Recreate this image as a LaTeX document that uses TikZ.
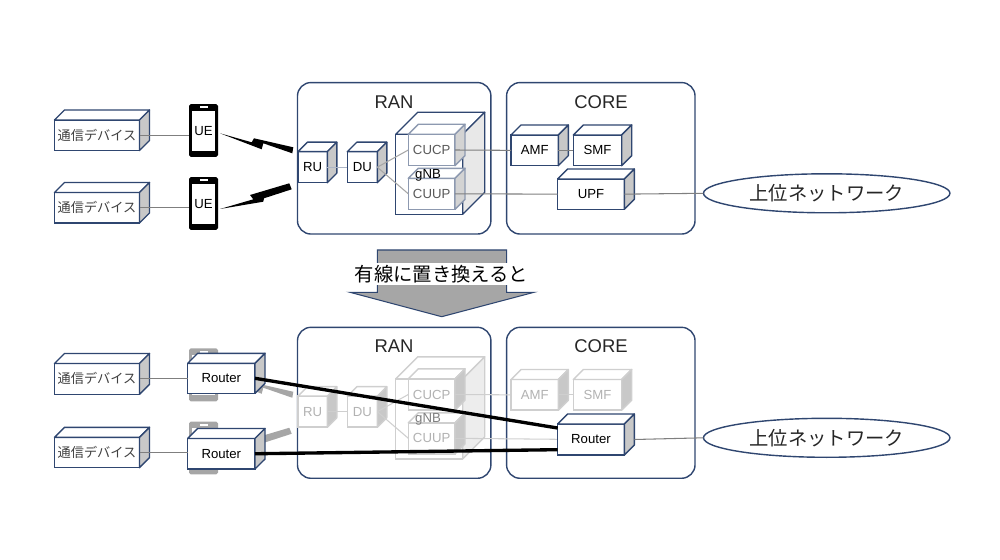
\documentclass[tikz,border=0pt]{standalone}
\usepackage{fontspec}
\setmainfont{Liberation Sans}
\newfontfamily\jp{Noto Sans CJK JP}
\usetikzlibrary{shapes.geometric}

\definecolor{navyline}{HTML}{2F4670}
\definecolor{wireline}{HTML}{7F7F7F}
\definecolor{sidegray}{HTML}{C8C8C8}
\definecolor{arrowgray}{HTML}{A6A6A6}
\definecolor{fadeline}{HTML}{CFCFCF}
\colorlet{boxedge}{navyline}
\colorlet{boxside}{sidegray}
\colorlet{boxtext}{black}
\colorlet{wirecol}{wireline}
\colorlet{phonecol}{black}

\newcommand{\smalltext}{\fontsize{7.5}{8}\selectfont}

\tikzset{
    cubeface/.style={draw=boxedge,fill=white,line width=0.8pt,inner sep=0pt,outer sep=0pt,text=boxtext,font=\smalltext},
    cubetop/.style={draw=boxedge,fill=white,line width=0.8pt,line join=round},
    cubeside/.style={draw=boxedge,fill=boxside,line width=0.8pt,line join=round},
    groupbox/.style={draw=navyline,line width=0.8pt,rounded corners=0.27cm,inner sep=0pt,outer sep=0pt},
    cloudnet/.style={ellipse,draw=navyline,fill=white,line width=0.8pt,inner sep=0pt,outer sep=0pt,minimum width=4.93cm,minimum height=0.78cm,font=\fontsize{11}{12}\selectfont\jp,text=black!85},
    title/.style={font=\fontsize{10.5}{12}\selectfont,text=black!85},
    wire/.style={draw=wirecol,line width=0.6pt},
    bolt/.style={fill=phonecol},
    link/.style={draw=black,line width=1.9pt}
}

% front face is a node, so wires can end on it
\newcommand{\cube}[7]{
    \node[cubeface,minimum width={(#4-#2)*0.02cm},minimum height={(#5-#3)*0.02cm}] (#1) at ({(#2+#4)/2},{(#3+#5)/2}) {#7};
    \draw[cubetop] (#1.north west) -- ++(#6,-#6) -- ++({#4-#2},0) -- (#1.north east) -- cycle;
    \draw[cubeside] (#1.north east) -- ++(#6,-#6) -- ++(0,{#5-#3}) -- (#1.south east) -- cycle;
}
\newcommand{\phone}[4]{
    \node[fill=phonecol,rounded corners=1pt,inner sep=0pt,outer sep=0pt,minimum width=0.58cm,minimum height=1.06cm] (#1) at (#2,#3) {};
    \node[fill=white,inner sep=0pt,minimum width=0.46cm,minimum height=0.81cm,font=\smalltext] (#1screen) at (#2,#3+0.4) {#4};
    \node[fill=white,inner sep=0pt,minimum width=0.16cm,minimum height=0.04cm] (#1speaker) at (#2,#3-23) {};
}

\begin{document}
\begin{tikzpicture}[x=0.02cm,y=-0.02cm]
    \useasboundingbox (0,0) rectangle (1000,560);

    % upper half
    \node[groupbox,minimum width=3.87cm,minimum height=3.03cm] (ran) at (394.2,158.3) {};
    \node[groupbox,minimum width=3.77cm,minimum height=3.03cm] (core) at (600.8,158.3) {};
    \node[title] (rantitle) at (394,101.7) {RAN};
    \node[title] (coretitle) at (601,101.7) {CORE};

    \cube{dev1}{54.5}{120}{139.5}{150.5}{10}{\jp\textcolor{black!75}{通信デバイス}}
    \cube{dev2}{54.5}{192.5}{139.5}{223}{10}{\jp\textcolor{black!75}{通信デバイス}}
    \phone{ue1}{203.5}{130.5}{UE}
    \phone{ue2}{203.5}{203.5}{UE}
    \draw[wire] (dev1.east) -- (dev1.east -| ue1.west);
    \draw[wire] (dev2.east) -- (dev2.east -| ue2.west);
    \fill[bolt] (220,133.3) -- (251.7,142.3) -- (254,138.3) -- (293.3,147.3) -- (292.3,153.3) -- (263.3,143.3) -- (261.7,149.3) -- cycle;
    \fill[bolt] (220,209) -- (253.3,199.3) -- (250,195) -- (289.3,183.3) -- (291.7,189.3) -- (264,198.3) -- (263.3,201.7) -- cycle;

    \cube{ru}{298}{151.7}{327.3}{182.7}{9.5}{RU}
    \cube{du}{347.3}{151.7}{377.3}{182.7}{9.5}{DU}
    \begin{scope}
        \colorlet{boxside}{black!9}
        \cube{gnb}{395.7}{134.3}{462.7}{214.3}{22}{}
        \colorlet{boxedge}{navyline!55}
        \colorlet{boxside}{sidegray!80}
        \colorlet{boxtext}{black!65}
        \cube{cucp}{408.3}{134.3}{455}{165.7}{10}{CUCP}
        \cube{cuup}{408.3}{178.3}{455}{209.3}{10}{CUUP}
    \end{scope}
    \node[font=\fontsize{7.5}{9}\selectfont] (gnblabel) at (428,175) {gNB};
    \cube{amf}{511}{135}{558.3}{165.7}{10}{AMF}
    \cube{smf}{573.3}{135}{621.7}{165.7}{10}{SMF}
    \cube{upf}{557.7}{179}{624.3}{209.3}{10}{UPF}
    \node[cloudnet] (net) at (826.7,193.3) {上位ネットワーク};

    \draw[draw=navyline!40,line width=0.6pt] (ru.east) -- (du.west);
    \draw[wire,draw=black!35] (du.east) -- (cucp.west);
    \draw[wire,draw=black!35] (du.east) -- (cuup.west);
    \draw[wire] (cucp.east) -- (amf.west);
    \draw[wire] (amf.east) -- (smf.west);
    \draw[wire] (cuup.east) -- (upf.west);
    \draw[wire] (upf.east) -- (net.west);

    % arrow between the halves
    \draw[fill=arrowgray,draw=navyline,line width=0.6pt] (377.3,250) -- (506.7,250) -- (506.7,292.3) -- (534,292.3) -- (441.7,316.7) -- (350,292.3) -- (377.3,292.3) -- cycle;
    \node[fill=white,inner sep=0pt,minimum width=3.44cm,minimum height=0.44cm,font=\fontsize{11}{12}\selectfont\jp] (replace) at (441.5,274) {有線に置き換えると};

    % lower half
    \node[groupbox,minimum width=3.87cm,minimum height=3.02cm] (ranb) at (394.2,402.8) {};
    \node[groupbox,minimum width=3.77cm,minimum height=3.02cm] (coreb) at (600.8,402.8) {};
    \node[title] (rantitleb) at (394,346) {RAN};
    \node[title] (coretitleb) at (601,346) {CORE};

    \begin{scope}
        \colorlet{boxedge}{fadeline}
        \colorlet{boxtext}{black!30}
        \colorlet{wirecol}{fadeline}
        \cube{rub}{298}{396.2}{327.3}{427.2}{9.5}{RU}
        \cube{dub}{347.3}{396.2}{377.3}{427.2}{9.5}{DU}
        \colorlet{boxside}{black!7}
        \cube{gnbb}{395.7}{378.8}{462.7}{458.8}{22}{}
        \colorlet{boxside}{sidegray}
        \cube{cucpb}{408.3}{378.8}{455}{410.2}{10}{CUCP}
        \cube{cuupb}{408.3}{422.8}{455}{453.8}{10}{CUUP}
        \node[font=\fontsize{7.5}{9}\selectfont,text=black!50] (gnblabelb) at (428,419.5) {gNB};
        \cube{amfb}{511}{379.5}{558.3}{410.2}{10}{AMF}
        \cube{smfb}{573.3}{379.5}{621.7}{410.2}{10}{SMF}
        \draw[wire] (rub.east) -- (dub.west);
        \draw[wire] (dub.east) -- (cucpb.west);
        \draw[wire] (dub.east) -- (cuupb.west);
        \draw[wire] (cucpb.east) -- (amfb.west);
        \draw[wire] (amfb.east) -- (smfb.west);
        \coordinate (cuuptail) at (557.7,439.3);
        \draw[wire] (cuupb.east) -- (cuuptail);
    \end{scope}

    \begin{scope}
        \colorlet{phonecol}{arrowgray}
        \phone{ueb1}{203.5}{374.8}{}
        \phone{ueb2}{203.5}{448}{}
        \fill[bolt,yshift=-4.89cm] (220,133.3) -- (251.7,142.3) -- (254,138.3) -- (293.3,147.3) -- (292.3,153.3) -- (263.3,143.3) -- (261.7,149.3) -- cycle;
        \fill[bolt,yshift=-4.89cm] (220,209) -- (253.3,199.3) -- (250,195) -- (289.3,183.3) -- (291.7,189.3) -- (264,198.3) -- (263.3,201.7) -- cycle;
    \end{scope}

    \cube{devb1}{54.5}{363.5}{139.5}{394.3}{10}{\jp\textcolor{black!75}{通信デバイス}}
    \cube{devb2}{54.5}{437.3}{139.5}{467.7}{10}{\jp\textcolor{black!75}{通信デバイス}}
    \cube{router1}{187.7}{363.3}{255}{393.3}{10}{Router}
    \cube{router2}{187.7}{438.5}{255}{469}{10}{Router}
    \cube{routerc}{557.7}{424}{624.3}{455}{10}{Router}
    \node[cloudnet] (netb) at (826.7,437.8) {上位ネットワーク};

    \draw[wire] (devb1.east) -- (devb1.east -| router1.west);
    \draw[wire] (devb2.east) -- (devb2.east -| router2.west);
    \draw[wire] (routerc.east) ++(10,0) -- (netb.west);
    \draw[link] (router1.east) -- (routerc.161);
    \draw[link] (router2.east) -- (routerc.197);
\end{tikzpicture}
\end{document}
